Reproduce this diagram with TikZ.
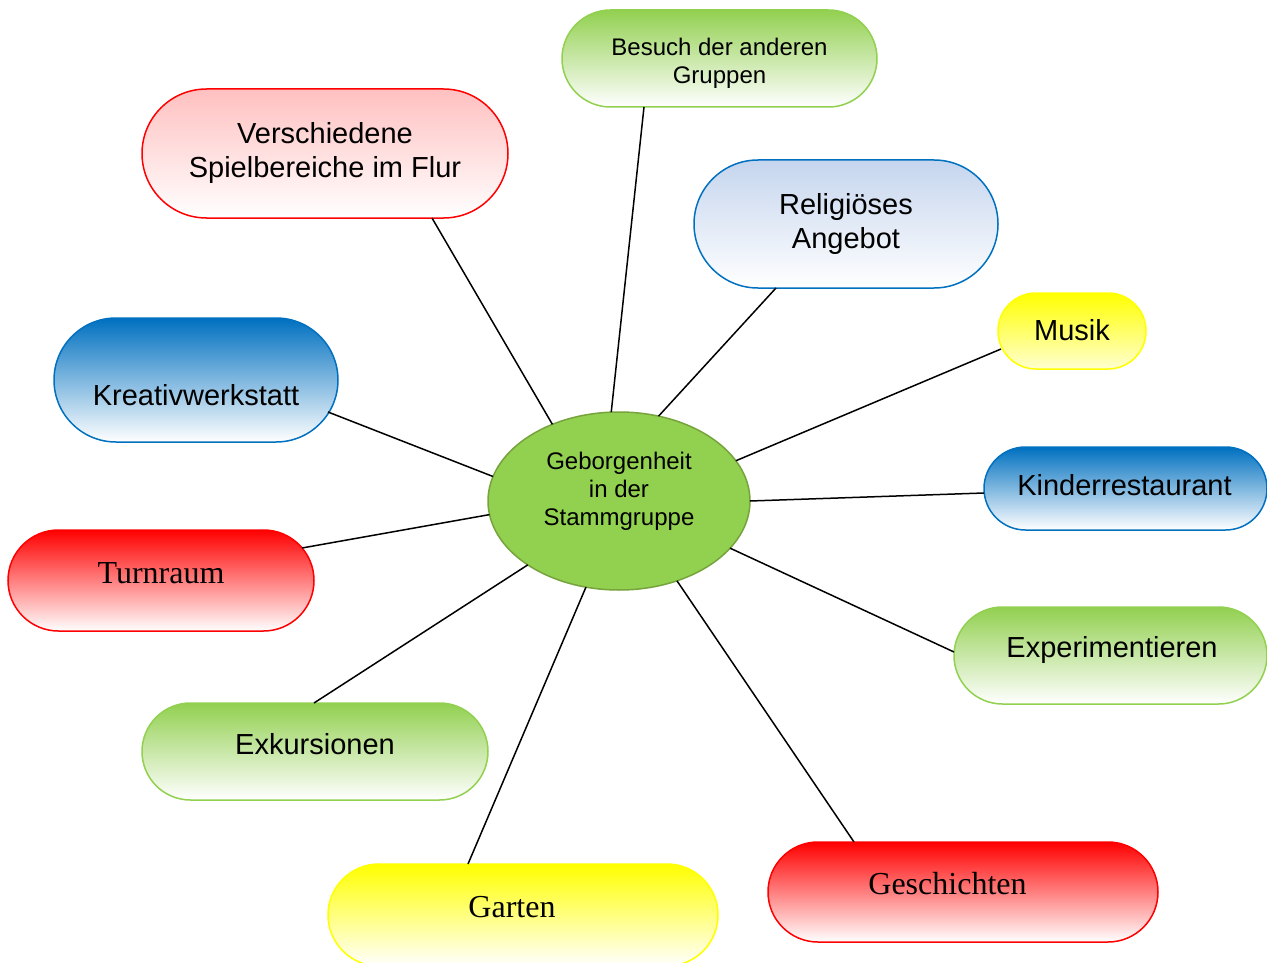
\documentclass[tikz,border=0pt]{standalone}
\usepackage{fontspec}
\setmainfont{Liberation Sans}
\newfontfamily\timesf{Liberation Serif}
\usetikzlibrary{shapes.geometric}
\definecolor{gr}{HTML}{92D050}
\definecolor{grdark}{HTML}{76A33C}
\definecolor{bl}{HTML}{0070C0}
\definecolor{bllight}{HTML}{C5D5EE}
\definecolor{rd}{HTML}{FF0000}
\definecolor{pinktop}{HTML}{FFC0C0}
\definecolor{yl}{HTML}{FFFF00}
\definecolor{ylpale}{HTML}{FFFFD0}
\begin{document}
\begin{tikzpicture}[x=1pt,y=-1pt,
  pill/.style={draw, line width=1.5pt, inner sep=0pt, outer sep=0pt},
  lbl/.style={align=center, inner sep=0pt, font=\fontsize{29}{34}\selectfont},
  lbls/.style={align=center, inner sep=0pt, font=\fontsize{24}{28}\selectfont},
  lblt/.style={align=center, inner sep=0pt, font=\timesf\fontsize{32}{36}\selectfont},
  conn/.style={line width=1.5pt, black}]
\useasboundingbox (0,0) rectangle (1267,963);

% central ellipse
\node[ellipse, draw=grdark, fill=gr, line width=1.5pt, minimum width=262pt, minimum height=178pt, inner sep=0pt, outer sep=0pt] (c) at (619,501) {};
\node[lbls] (ct) at (619,491) {Geborgenheit\\in der\\Stammgruppe};

% boxes
\node[pill, draw=rd, top color=pinktop, bottom color=white, minimum width=366pt, minimum height=129pt, rounded corners=64.5pt] (v) at (325,153.5) {};
\node[lbl] (vt) at (325,153) {Verschiedene\\Spielbereiche im Flur};

\node[pill, draw=gr, top color=gr, bottom color=white, minimum width=315pt, minimum height=97pt, rounded corners=48.5pt] (b) at (719.5,58.5) {};
\node[lbls] (bt) at (719.5,63) {Besuch der anderen\\Gruppen};

\node[pill, draw=bl, top color=bllight, bottom color=white, minimum width=304pt, minimum height=128pt, rounded corners=64pt] (r) at (846,224) {};
\node[lbl] (rt) at (846,224) {Religiöses\\Angebot};

\node[pill, draw=yl, top color=yl, bottom color=ylpale, minimum width=148pt, minimum height=76pt, rounded corners=38pt] (mu) at (1072,331) {};
\node[lbl] (mut) at (1072,330) {Musik};

\node[pill, draw=bl, top color=bl, bottom color=white, minimum width=284pt, minimum height=124pt, rounded corners=62pt] (kr) at (196,380) {};
\node[lbl] (krt) at (196,395) {Kreativwerkstatt};

\node[pill, draw=bl, top color=bl, bottom color=white, minimum width=283pt, minimum height=83pt, rounded corners=41.5pt] (ki) at (1125.5,488.5) {};
\node[lbl] (kit) at (1124.5,485) {Kinderrestaurant};

\node[pill, draw=rd, top color=rd, bottom color=white, minimum width=306pt, minimum height=101pt, rounded corners=50.5pt] (tu) at (161,580.5) {};
\node[lblt] (tut) at (161,573) {Turnraum};

\node[pill, draw=gr, top color=gr, bottom color=white, minimum width=313pt, minimum height=97pt, rounded corners=48.5pt] (ex) at (1110.5,655.5) {};
\node[lbl] (ext) at (1112,650) {Experimentieren};

\node[pill, draw=gr, top color=gr, bottom color=white, minimum width=346pt, minimum height=97pt, rounded corners=48.5pt] (ek) at (315,751.5) {};
\node[lbl] (ekt) at (315,744) {Exkursionen};

\node[pill, draw=yl, top color=yl, bottom color=white, minimum width=390pt, minimum height=102pt, rounded corners=51pt] (ga) at (523,915) {};
\node[lblt] (gat) at (512,907) {Garten};

\node[pill, draw=rd, top color=rd, bottom color=white, minimum width=390pt, minimum height=100pt, rounded corners=50pt] (ge) at (963,892) {};
\node[lblt] (get) at (947.5,884) {Geschichten};

% connectors
\draw[conn] ([xshift=107pt]v.south) -- (c.131);
\draw[conn] ([xshift=-75.5pt]b.south) -- (c.95.8);
\draw[conn] ([xshift=-70pt]r.south) -- (c.65.3);
\draw[conn] ([xshift=3pt,yshift=-18pt]mu.west) -- (c.19.5);
\draw[conn] ([xshift=-10pt,yshift=-32pt]kr.east) -- (c.169.2);
\draw[conn] ([yshift=-4.5pt]ki.west) -- (c.-0.9);
\draw[conn] ([xshift=-12pt,yshift=32.5pt]tu.east) -- (c.186.5);
\draw[conn] ([yshift=3.5pt]ex.west) -- (c.-23.1);
\draw[conn] ([xshift=-1pt]ek.north) -- (c.215.5);
\draw[conn] ([xshift=-55pt]ga.north) -- (c.249.7);
\draw[conn] ([xshift=-109pt]ge.north) -- (c.-54.7);
\end{tikzpicture}
\end{document}
